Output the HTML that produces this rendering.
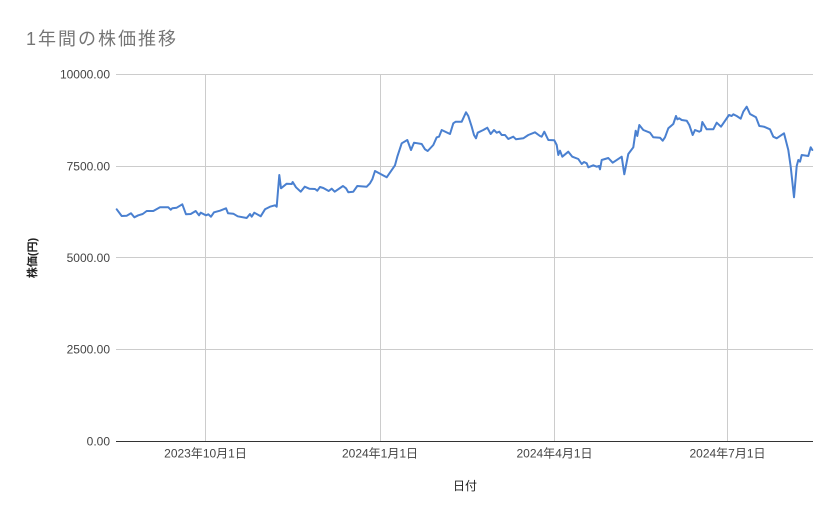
<!DOCTYPE html>
<html>
<head>
<meta charset="utf-8">
<style>
  html, body { margin: 0; padding: 0; background: #ffffff; }
  body { width: 839px; height: 519px; overflow: hidden; }
  svg { display: block; }
  text { font-family: "Liberation Sans", "Noto Sans CJK JP", sans-serif; }
</style>
</head>
<body>
<svg width="839" height="519" viewBox="0 0 839 519" xmlns="http://www.w3.org/2000/svg">
  <rect x="0" y="0" width="839" height="519" fill="#ffffff"/>

  <!-- Title -->
  <text x="26" y="45" font-size="18" fill="#757575" letter-spacing="2">1年間の株価推移</text>

  <!-- Horizontal gridlines -->
  <g stroke="#cccccc" stroke-width="1" shape-rendering="crispEdges">
    <line x1="116" y1="74.5" x2="813" y2="74.5"/>
    <line x1="116" y1="166.5" x2="813" y2="166.5"/>
    <line x1="116" y1="257.5" x2="813" y2="257.5"/>
    <line x1="116" y1="349.5" x2="813" y2="349.5"/>
    <!-- Vertical gridlines -->
    <line x1="205.5" y1="74" x2="205.5" y2="441"/>
    <line x1="380.5" y1="74" x2="380.5" y2="441"/>
    <line x1="554.5" y1="74" x2="554.5" y2="441"/>
    <line x1="727.5" y1="74" x2="727.5" y2="441"/>
  </g>

  <!-- Zero axis -->
  <line x1="116" y1="441.5" x2="813" y2="441.5" stroke="#333333" stroke-width="1" shape-rendering="crispEdges"/>

  <!-- Y tick labels -->
  <g font-size="12" fill="#444444" text-anchor="end">
    <text x="110" y="78.5">10000.00</text>
    <text x="110" y="170.5">7500.00</text>
    <text x="110" y="261.8">5000.00</text>
    <text x="110" y="353.6">2500.00</text>
    <text x="110" y="445.6">0.00</text>
  </g>

  <!-- X tick labels -->
  <g font-size="12" fill="#444444" text-anchor="middle">
    <text x="205.5" y="457.5">2023年10月1日</text>
    <text x="380" y="457.5">2024年1月1日</text>
    <text x="554.5" y="457.5">2024年4月1日</text>
    <text x="727.5" y="457.5">2024年7月1日</text>
  </g>

  <!-- Axis titles -->
  <text x="465" y="490" font-size="12" fill="#222222" text-anchor="middle">日付</text>
  <text transform="translate(35.8,258) rotate(-90)" font-size="11" font-weight="bold" fill="#222222" text-anchor="middle">株価(円)</text>

  <!-- Series -->
  <path fill="none" stroke="#4a80d0" stroke-width="2" stroke-linejoin="round" stroke-linecap="round"
    d="M116.7,209.3 L121.7,216 L126.7,215.7 L131,213.3 L134.3,217.3 L138.3,215.3 L142.7,214 L146.7,211 L153.3,211 L160,207.3 L168.3,207.3 L170.7,209.7 L172.3,208.3 L176.7,207.7 L182.3,204.3 L186,214.3 L190.7,214 L195.7,211 L199,215.3 L200.7,212.7 L206,215.3 L208.3,214.3 L211,216.7 L214,212.3 L220,210.7 L226,208.3 L228,213.3 L233.3,213.7 L237.7,216.3 L246.7,218 L250,214 L251.7,216.7 L254.3,212.7 L260.7,216.3 L265,209.3 L270,206.7 L275,205.3 L276.7,206.7 L279.3,175 L281,188.3 L286.7,183.7 L291.7,184 L292.7,182 L296,187.3 L300.7,191.7 L304.7,186.7 L309.3,188.7 L315,189 L317.3,190.7 L320,187 L323.3,188 L328.7,191 L331.7,188.7 L334.7,191.7 L343,186 L346,188.3 L348.3,192.3 L353.3,191.7 L357.3,186 L366.7,186.7 L370,183.3 L372.3,179.3 L375,171 L386.7,177.3 L395,165.3 L397.3,156.7 L401.7,143.3 L407.3,140 L411,150 L414,142.7 L421.7,144 L425,149.3 L427.7,151 L433.3,145 L436.7,137.3 L439,136.7 L441.7,130 L450,134 L453.3,123.3 L455.7,121.7 L461.7,121.7 L466,112.3 L468.3,116 L471.7,126.7 L474,135 L476,138.3 L477.7,132.7 L483.3,130 L487.3,127.7 L490.7,134 L494,130 L496.7,132.7 L499.3,131.7 L501.7,135 L505,135 L508.3,139 L513.3,136.7 L516,139.3 L523.3,138.3 L528.3,135 L535,132.3 L540,136 L541.7,136.7 L544.3,131.7 L548.3,140 L554.3,140.3 L556.7,145 L558.3,155 L560,150.7 L562.3,156.7 L568.3,151.7 L572.3,156.7 L578.3,159 L581.7,164 L584,162 L586.7,163.3 L588.3,167.3 L593.3,165.3 L596.7,166.7 L599,166 L600,169.3 L601.7,160 L608.3,158 L612.7,162.7 L621.7,156.7 L624.3,174.3 L628.3,154 L633.3,147.3 L635.7,130.7 L637.3,136 L639.3,125 L643.3,130 L650,132.7 L653.3,137.3 L660,137.7 L662.7,140.7 L665,137.3 L668.3,128.3 L673.3,124 L676,116 L677.3,119.3 L679.3,118.3 L681.7,120 L686.7,120.7 L689.3,125 L692.7,135 L695,130 L699.3,131.7 L701,130.7 L702.3,122 L706.7,129.3 L713.3,129.3 L716.7,122.7 L721,126.7 L729,115 L731.7,116 L733.3,114.3 L736.7,116 L740.7,118.7 L743.3,111.7 L746.7,106.7 L750,114 L756,117.3 L759.3,126 L764,126.7 L770,129.3 L773.3,136.7 L776.7,138.3 L784,133.3 L788.3,150 L790.7,166.7 L794,197.3 L796.7,166 L798.3,160 L800,161.7 L801.7,155 L808.3,156 L810.7,147.3 L812.3,150"/>
</svg>
</body>
</html>
